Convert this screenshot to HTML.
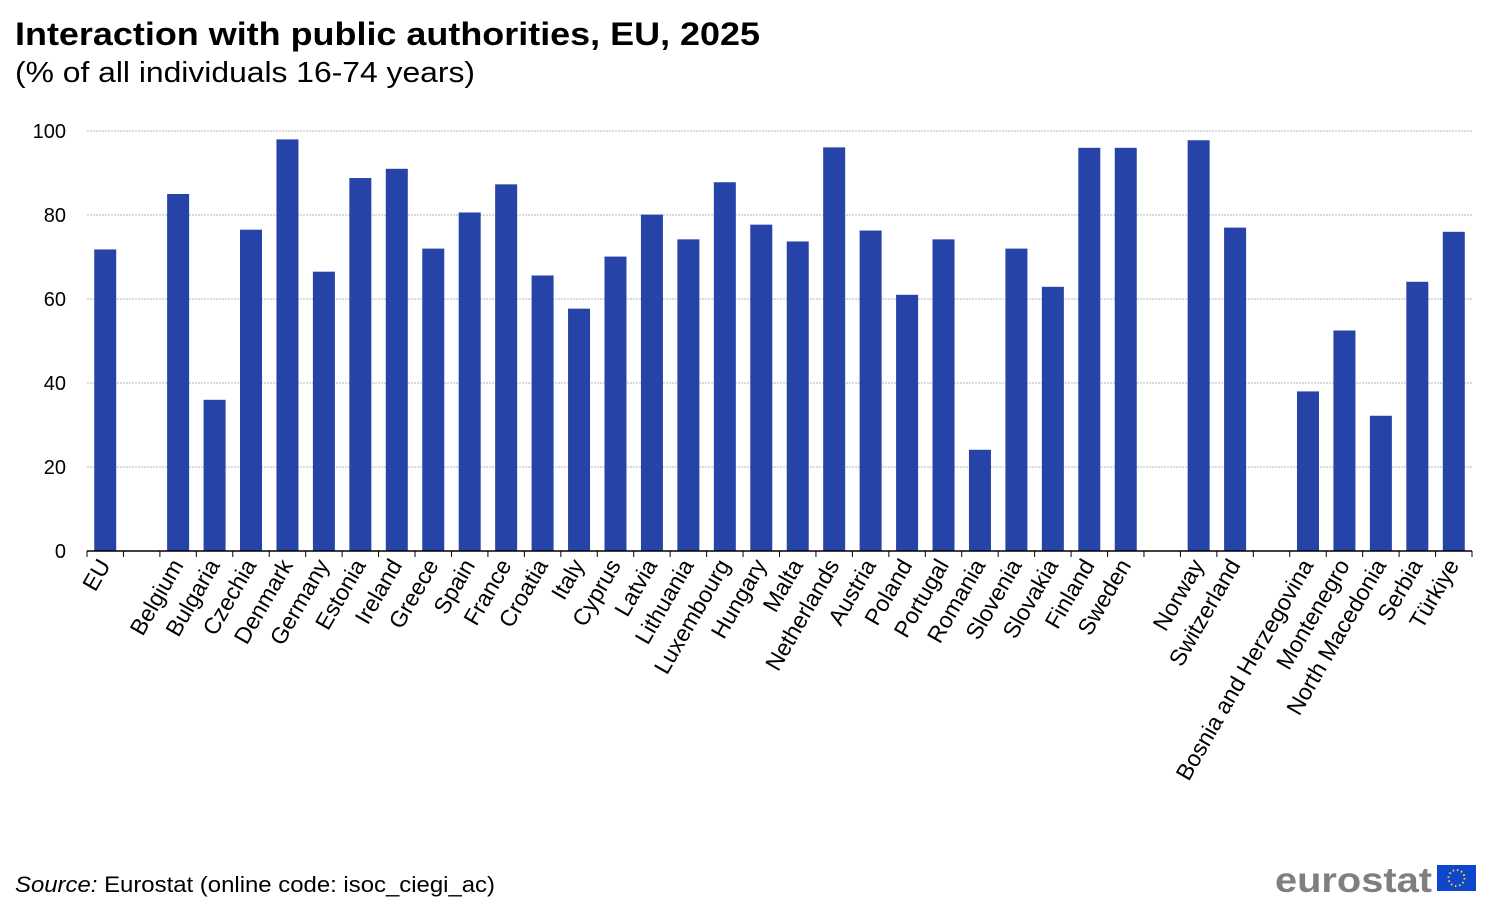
<!DOCTYPE html>
<html><head><meta charset="utf-8"><style>
body{margin:0;background:#fff;width:1500px;height:906px;overflow:hidden;font-family:"Liberation Sans",Arial,sans-serif}
svg text{font-family:"Liberation Sans",Arial,sans-serif}
</style></head><body>
<svg id="c" width="1500" height="906">
<text x="15" y="45" font-size="32" font-weight="bold" fill="#000" textLength="745" lengthAdjust="spacingAndGlyphs">Interaction with public authorities, EU, 2025</text>
<text x="15" y="82" font-size="29" fill="#000" textLength="460" lengthAdjust="spacingAndGlyphs">(% of all individuals 16-74 years)</text>
<text x="15" y="892" font-size="22" fill="#000" textLength="480" lengthAdjust="spacingAndGlyphs"><tspan font-style="italic">Source:</tspan> Eurostat (online code: isoc_ciegi_ac)</text>
<g>
<text x="1432" y="892" font-size="35" font-weight="bold" fill="#7f7f7f" text-anchor="end" textLength="157" lengthAdjust="spacingAndGlyphs">eurostat</text>
<rect x="1437" y="865" width="39" height="26" fill="#0e47cb"/>
<circle cx="1456.5" cy="878" r="8" fill="none" stroke="#ffd617" stroke-width="2" stroke-dasharray="1.5 2.7"/>
</g>
<g id="plot"></g>
</svg>
<script>
const categories=["EU",null,"Belgium","Bulgaria","Czechia","Denmark","Germany","Estonia","Ireland","Greece","Spain","France","Croatia","Italy","Cyprus","Latvia","Lithuania","Luxembourg","Hungary","Malta","Netherlands","Austria","Poland","Portugal","Romania","Slovenia","Slovakia","Finland","Sweden",null,"Norway","Switzerland",null,"Bosnia and Herzegovina","Montenegro","North Macedonia","Serbia","Türkiye"];
const values=[71.8,null,85,36,76.5,98,66.5,88.8,91,72,80.6,87.3,65.6,57.7,70.1,80.1,74.2,87.8,77.7,73.7,96.1,76.3,61,74.2,24.1,72,62.9,96,96,null,97.8,77,null,38,52.5,32.2,64.1,76];
const yTicks=[0,20,40,60,80,100];
const X0=87,X1=1472,Y0=551,Y1=131;
const slot=(X1-X0)/categories.length;
const y=v=>Y0-(v/100)*(Y0-Y1);
const xc=i=>X0+slot*(i+0.5);
const NS="http://www.w3.org/2000/svg";
const g=document.getElementById('plot');
function mk(t,a,txt){const e=document.createElementNS(NS,t);for(const k in a)e.setAttribute(k,a[k]);if(txt!=null)e.textContent=txt;g.appendChild(e);return e;}
yTicks.forEach(t=>{
 if(t>0){const l=mk('line',{x1:X0,x2:X1,y1:y(t),y2:y(t),stroke:'#b4b4b4','stroke-width':1,'stroke-dasharray':'2 1'});
 
 }
 const tx=mk('text',{x:66,y:y(t)+7,'font-size':20,'text-anchor':'end',fill:'#000'},t);
 
 
});
categories.forEach((c,i)=>{
 const tk=mk('line',{x1:X0+slot*i,x2:X0+slot*i,y1:Y0,y2:Y0+6,stroke:'#000','stroke-width':1});
 
 
 if(c==null)return;
 const v=values[i];
 const b=mk('rect',{x:xc(i)-11,y:y(v),width:22,height:Y0-y(v),fill:'#2644a8'});
 
 
 const tx=mk('text',{x:0,y:0,'font-size':23,'text-anchor':'end',fill:'#000',transform:`translate(${xc(i)+6},${Y0+14}) rotate(-60)`},c);
 
 
});
const tk=mk('line',{x1:X1,x2:X1,y1:Y0,y2:Y0+6,stroke:'#000'});


const ax=mk('line',{x1:X0,x2:X1,y1:Y0,y2:Y0,stroke:'#000','stroke-width':1.5});


</script>
</body></html>
